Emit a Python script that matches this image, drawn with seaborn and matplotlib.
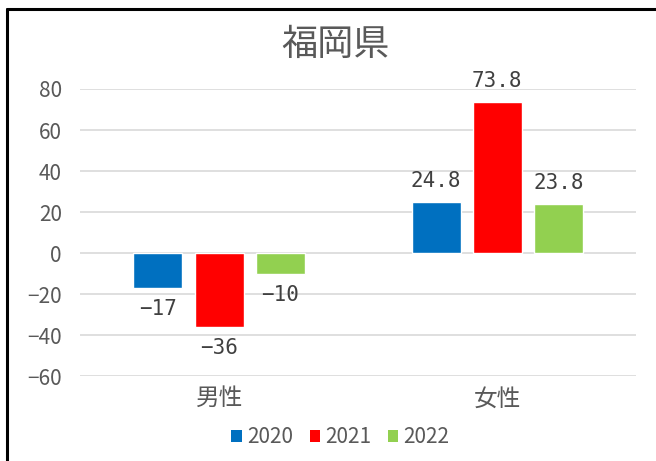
import pandas as pd
import numpy as np
import matplotlib.pyplot as plt
import seaborn as sns
from matplotlib.lines import Line2D
from matplotlib.patches import Patch

# data
categories = ['男性', '女性']
years = ['2020', '2021', '2022']
values_2020 = [-17, 24.8]
values_2021 = [-36, 73.8]
values_2022 = [-10, 23.8]
labels_2020 = ['−17', '24.8']
labels_2021 = ['−36', '73.8']
labels_2022 = ['−10', '23.8']
yticks = [-60, -40, -20, 0, 20, 40, 60, 80]
colors = ['#0070C0', '#FF0000', '#92D050']

df = pd.DataFrame({
    'category': categories * 3,
    'year': [y for y in years for _ in categories],
    'value': values_2020 + values_2021 + values_2022,
})
label_lists = [labels_2020, labels_2021, labels_2022]

sns.set_style('white')
plt.rcParams['font.family'] = ['Noto Sans CJK JP', 'DejaVu Sans']
plt.rcParams['axes.unicode_minus'] = True

fig = plt.figure(figsize=(6.56, 4.61), dpi=100)
ax = fig.add_axes([0.122, 0.184, 0.848, 0.623])

sns.barplot(data=df, x='category', y='value', hue='year', order=categories,
            hue_order=years, palette=colors, width=0.66, gap=0.2,
            saturation=1, legend=False, ax=ax, zorder=3)

ax.set_ylim(-60, 80)
ax.set_yticks(yticks)
ax.set_yticklabels([str(t).replace('-', '−') for t in yticks])
ax.set_xlim(-0.5, 1.5)
ax.grid(axis='y', color='#D9D9D9', linewidth=1.2, zorder=0)
ax.set_axisbelow(True)
for s in ax.spines.values():
    s.set_visible(False)
ax.tick_params(axis='y', length=0, labelsize=15, labelcolor='#595959', pad=13)
ax.tick_params(axis='x', length=0, labelsize=17, labelcolor='#595959', pad=8)
ax.set_xlabel('')
ax.set_ylabel('')

# data labels
mono = ['DejaVu Sans Mono']
for container, labs in zip(ax.containers, label_lists):
    for bar, lab in zip(container, labs):
        h = bar.get_height()
        x = bar.get_x() + bar.get_width() / 2
        if h >= 0:
            ax.annotate(lab, (x, h), xytext=(0, 8), textcoords='offset points',
                        ha='center', va='bottom', fontsize=15, color='#404040',
                        family=mono, annotation_clip=False)
        else:
            ax.annotate(lab, (x, h), xytext=(0, -8), textcoords='offset points',
                        ha='center', va='top', fontsize=15, color='#404040',
                        family=mono, annotation_clip=False)

fig.text(0.511, 0.902, '福岡県', ha='center', va='center', fontsize=26, color='#595959')

handles = [Patch(facecolor=c, edgecolor='none') for c in colors]
fig.legend(handles, years, loc='center', bbox_to_anchor=(0.519, 0.052), ncol=3,
           frameon=False, fontsize=15, handlelength=0.5, handleheight=0.5,
           handletextpad=0.25, columnspacing=0.8, labelcolor='#595959')

# chart border (left and top edges visible in the crop)
fig.add_artist(Line2D([0.01, 0.01], [0.0, 0.98], color='black', linewidth=2.2,
                      transform=fig.transFigure))
fig.add_artist(Line2D([0.01, 1.0], [0.98, 0.98], color='black', linewidth=2.2,
                      transform=fig.transFigure))

plt.savefig('out.png', dpi=100)
plt.close()
